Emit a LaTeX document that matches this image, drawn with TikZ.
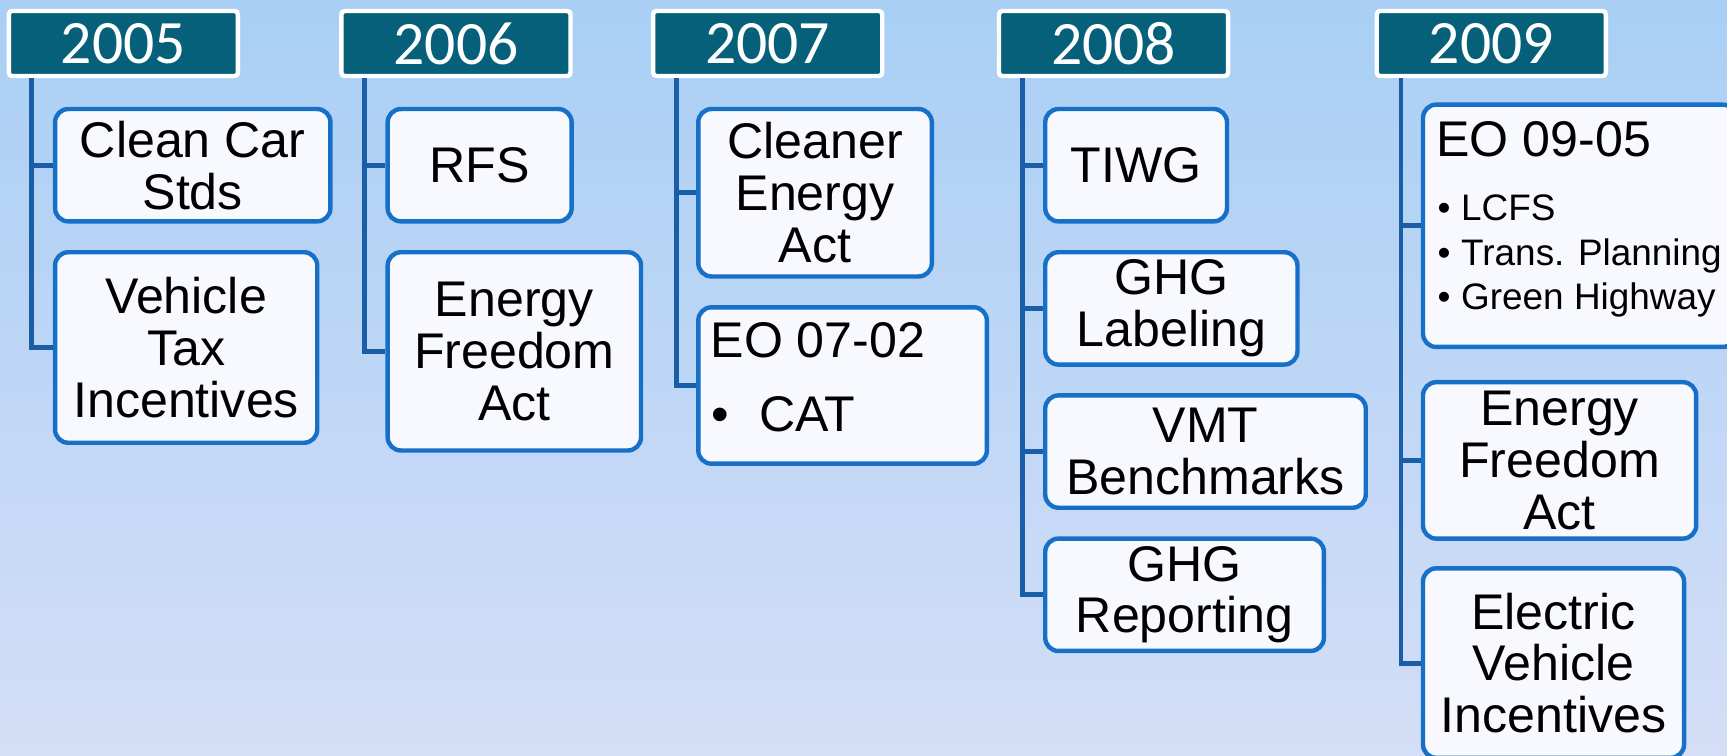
\documentclass[tikz,border=0pt]{standalone}
\usepackage{fontspec}
\setmainfont{Liberation Sans}
\newfontfamily\yearfont{Carlito}
\definecolor{bgtop}{RGB}{169,207,245}
\definecolor{bgbot}{RGB}{212,222,246}
\definecolor{yearfill}{RGB}{6,96,121}
\definecolor{boxblue}{RGB}{22,112,200}
\definecolor{boxfill}{RGB}{247,249,254}
\definecolor{lineblue}{RGB}{26,94,168}
\begin{document}
\begin{tikzpicture}[x=1pt,y=-1pt,
  box/.style={draw=boxblue, line width=4pt, fill=boxfill, rounded corners=12pt,
    inner sep=0pt, align=center, font=\fontsize{45.5}{47}\selectfont},
  year/.style={draw=white, line width=4pt, fill=yearfill, rounded corners=3pt,
    text=white, inner sep=0pt, minimum width=208pt, minimum height=59pt,
    font=\yearfont\fontsize{56}{56}\selectfont},
  conn/.style={draw=lineblue, line width=4.5pt},
  txt/.style={inner sep=0pt, anchor=base west, font=\fontsize{45.5}{47}\selectfont},
  small/.style={inner sep=0pt, anchor=base west, font=\fontsize{33.5}{40}\selectfont}]
\useasboundingbox (0,0) rectangle (1568,686);
\clip (0,0) rectangle (1568,686);
\shade[top color=bgtop, bottom color=bgbot] (0,0) rectangle (1568,686);

% headers
\node[year] (h05) at (112,39.5) {2005};
\node[year] (h06) at (414,39.5) {2006};
\node[year] (h07) at (697,39.5) {2007};
\node[year] (h08) at (1011,39.5) {2008};
\node[year] (h09) at (1354,39.5) {2009};

% 2005
\node[box, minimum width=250pt, minimum height=102pt] (b51) at (175,150) {Clean Car\\Stds};
\node[box, minimum width=238pt, minimum height=173pt] (b52) at (169,315.5) {Vehicle\\Tax\\Incentives};
% 2006
\node[box, minimum width=167pt, minimum height=102pt] (b61) at (435.5,150) {RFS};
\node[box, minimum width=230pt, minimum height=180pt] (b62) at (467,319) {Energy\\Freedom\\Act};
% 2007
\node[box, minimum width=212pt, minimum height=152pt] (b71) at (740,175) {Cleaner\\Energy\\Act};
\node[box, minimum width=262pt, minimum height=142pt] (b72) at (765,350) {};
\node[txt] (eo7) at (645,325) {EO 07-02};
\node[txt] (cat) at (646,392) {\makebox[43pt][l]{•}CAT};
% 2008
\node[box, minimum width=165pt, minimum height=102pt] (b81) at (1031.5,150) {TIWG};
\node[box, minimum width=229pt, minimum height=102pt] (b82) at (1063.5,280) {GHG\\Labeling};
\node[box, minimum width=291pt, minimum height=102pt] (b83) at (1094.5,410) {VMT\\Benchmarks};
\node[box, minimum width=253pt, minimum height=102pt] (b84) at (1075.5,540) {GHG\\Reporting};
% 2009
\node[box, minimum width=284pt, minimum height=220pt] (b91) at (1434,205) {};
\node[txt] (eo9) at (1304,142) {EO 09-05};
\node[small] (lcfs) at (1305,200) {\makebox[21.5pt][l]{•}LCFS};
\node[small] (trans) at (1305,241) {\makebox[21.5pt][l]{•}Trans. Planning};
\node[small] (green) at (1305,281) {\makebox[21.5pt][l]{•}Green Highway};
\node[box, minimum width=248pt, minimum height=142pt] (b92) at (1416,418) {Energy\\Freedom\\Act};
\node[box, minimum width=237pt, minimum height=172pt] (b93) at (1410.5,602) {Electric\\Vehicle\\Incentives};

% connectors
\coordinate (l05) at (29,71);
\coordinate (l06) at (331,71);
\coordinate (l07) at (614,71);
\coordinate (l08) at (928,71);
\coordinate (l09) at (1272,71);
\draw[conn] (l05) |- (b51.west);
\draw[conn] (l05) |- (b52.west);
\draw[conn] (l06) |- (b61.west);
\draw[conn] (l06) |- (b62.west);
\draw[conn] (l07) |- (b71.west);
\draw[conn] (l07) |- (b72.west);
\draw[conn] (l08) |- (b81.west);
\draw[conn] (l08) |- (b82.west);
\draw[conn] (l08) |- (b83.west);
\draw[conn] (l08) |- (b84.west);
\draw[conn] (l09) |- (b91.west);
\draw[conn] (l09) |- (b92.west);
\draw[conn] (l09) |- (b93.west);
\end{tikzpicture}
\end{document}
